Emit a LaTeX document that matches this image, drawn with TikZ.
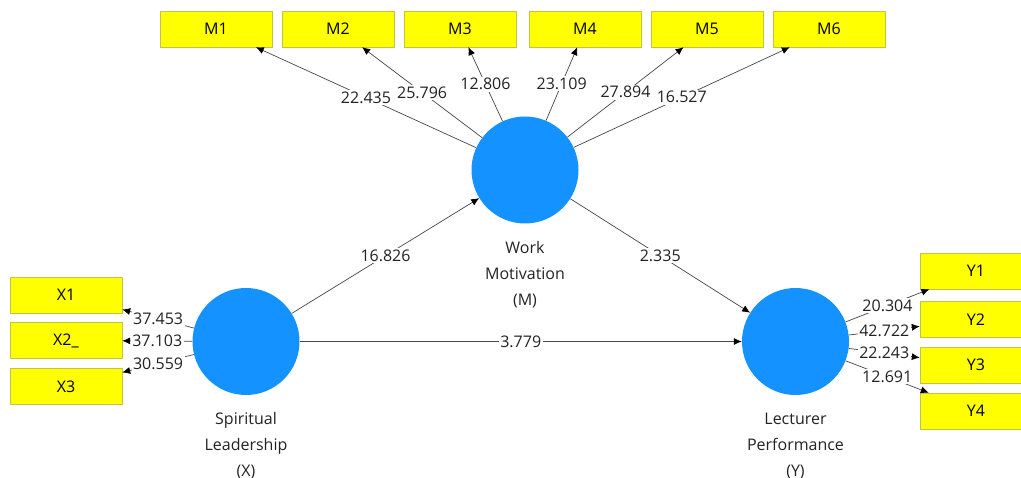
\documentclass[tikz,border=0pt]{standalone}
\usepackage{fontspec}
\setmainfont{Open Sans}
\usetikzlibrary{arrows.meta,positioning}
\definecolor{latentblue}{RGB}{20,146,255}
\definecolor{itemyellow}{RGB}{255,255,0}
\definecolor{itemedge}{RGB}{195,195,70}
\definecolor{pathgrey}{RGB}{70,70,70}
\definecolor{labelink}{RGB}{35,35,35}

\tikzset{
  item/.style={draw=itemedge, fill=itemyellow, minimum width=112pt,
    minimum height=36pt, inner sep=0pt, font=\fontsize{16}{18}\selectfont},
  latent/.style={circle, fill=latentblue, minimum size=107pt, inner sep=0pt},
  loading/.style={draw=pathgrey, line width=0.7pt,
    -{Latex[length=8pt,width=7pt,color=black]}},
  coef/.style={midway, fill=white, inner sep=1.5pt, text=labelink,
    font=\fontsize{16}{18}\selectfont},
  caption/.style={align=center, text=labelink,
    font=\fontsize{16}{26}\selectfont, inner sep=0pt}
}

\begin{document}
\begin{tikzpicture}[x=1pt, y=-1pt]
  \useasboundingbox (0,0) rectangle (1021,478);
  % latent variables
  \node[latent] (M) at (525,170) {};
  \node[latent] (X) at (246,341.5) {};
  \node[latent] (Y) at (795.5,341.5) {};
  \node[caption, below=17pt of M] (Mcap) {Work\\Motivation\\(M)};
  \node[caption, below=17pt of X] (Xcap) {Spiritual\\Leadership\\(X)};
  \node[caption, below=18pt of Y] (Ycap) {Lecturer\\Performance\\(Y)};
  % indicators
  \foreach \n/\x in {1/216,2/338,3/460,4/585,5/707,6/829}
    \node[item] (M\n) at (\x,29) {M\n};
  \node[item] (X1) at (66,295) {X1};
  \node[item] (X2) at (66,340.5) {X2\_};
  \node[item] (X3) at (66,386.5) {X3};
  \foreach \n/\y in {1/271,2/319.5,3/365,4/411}
    \node[item] (Y\n) at (976,\y) {Y\n};
  % outer loadings
  \foreach \n/\v in {1/22.435,2/25.796,3/12.806,4/23.109,5/27.894,6/16.527}
    \draw[loading] (M) -- node[coef] (lM\n) {\v} (M\n);
  \foreach \n/\v in {1/37.453,2/37.103,3/30.559}
    \draw[loading] (X) -- node[coef] (lX\n) {\v} (X\n);
  \foreach \n/\v in {1/20.304,2/42.722,3/22.243,4/12.691}
    \draw[loading] (Y) -- node[coef] (lY\n) {\v} (Y\n);
  % inner model
  \draw[loading] (X) -- node[coef] (lXM) {16.826} (M);
  \draw[loading] (M) -- node[coef] (lMY) {2.335} (Y);
  \draw[loading] (X) -- node[coef] (lXY) {3.779} (Y);
\end{tikzpicture}
\end{document}
